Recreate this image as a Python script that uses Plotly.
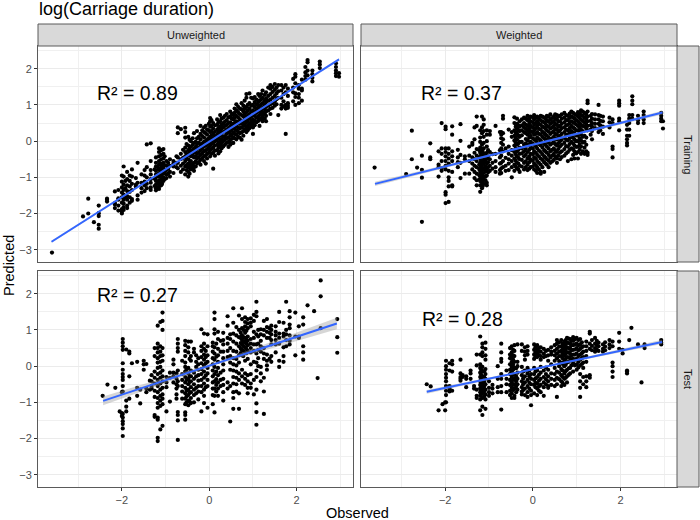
import plotly.graph_objects as go

train_unweighted = [
(-3.6,[-3.08]),(-2.89,[-2.08]),(-2.77,[-2.0,-1.59]),(-2.64,[-2.24]),(-2.53,[-1.78,-1.99,-2.07,-2.31,-2.42]),
(-2.34,[-1.59,-1.67,-1.62]),(-2.16,[-1.39,-1.71,-1.75,-1.85]),(-2.08,[-1.35,-1.58,-1.62,-1.78,-1.92]),
(-2.0,[-0.95,-1.12,-1.28,-1.42,-1.55,-1.7,-1.88,-1.95,-2.0]),(-1.96,[-0.7,-0.98,-1.2,-1.35,-1.48,-1.62,-1.72,-1.82,-1.9]),
(-1.88,[-0.85,-1.05,-1.22,-1.38,-1.52,-1.62,-1.78,-1.85]),(-1.82,[-0.95,-1.1,-1.25,-1.4,-1.55,-1.7]),
(-1.77,[-0.78,-0.98,-1.18,-1.35,-1.6,-1.65]),(-1.68,[-1.2,-1.25,-1.02]),(-1.64,[-0.6,-1.15,-1.5,-1.62]),
(-1.55,[-0.92,-1.15,-1.3,-1.42]),(-1.48,[-0.8,-0.95,-1.12,-1.22,-1.38]),(-1.43,[-0.09,-0.72,-1.0,-1.18,-1.3]),
(-1.34,[-0.06,-0.55,-0.8,-0.92,-1.05,-1.15,-1.28,-1.35]),(-1.22,[-0.45,-0.6,-0.7,-0.82,-0.92,-1.0,-1.1,-1.2,-1.3,-1.36]),
(-1.15,[-0.2,-0.3,-0.42,-0.55,-0.65,-0.78,-0.88,-0.98,-1.08,-1.18,-1.25,-1.32]),(-1.1,[-0.25,-0.38,-0.5,-0.62,-0.72,-0.85,-0.95,-1.05,-1.15,-1.22]),
(-1.05,[-0.22,-0.35,-0.48,-0.6,-0.75,-0.9,-1.0,-1.1]),(-0.98,[-0.55,-0.68,-0.8,-0.92,-1.02]),(-0.9,[-0.5,-0.68,-0.85,-0.98]),
(-0.82,[-0.55,-0.7,-0.88,-0.62]),(-0.75,[-0.42,-0.6,-0.72]),(-0.72,[0.38,0.22,-0.45,-0.6,-0.75]),
(-0.65,[0.33,-0.35,-0.5,-0.68,-0.85]),(-0.55,[0.37,0.25,0.1,-0.18,-0.3,-0.42,-0.55,-0.7,-0.92]),
(-0.48,[0.12,-0.12,-0.25,-0.38,-0.5,-0.62,-0.72,-0.85,-0.98]),(-0.42,[0.0,-0.15,-0.28,-0.42,-0.55,-0.68,-0.78]),
(-0.35,[0.22,-0.05,-0.2,-0.32,-0.45,-0.6,-0.72,-0.82]),(-0.28,[0.28,0.08,-0.08,-0.22,-0.35,-0.48,-0.62]),
(-0.2,[0.42,0.2,0.05,-0.1,-0.25,-0.38,-0.52,-0.65]),(-0.12,[0.38,0.25,0.1,-0.02,-0.15,-0.28,-0.42,-0.55]),
(-0.05,[0.32,0.18,0.05,-0.08,-0.22,-0.35,-0.48]),(0.02,[0.64,0.55,0.4,0.25,0.12,0.0,-0.12,-0.25,-0.42]),
(0.09,[0.5,0.35,0.2,0.08,-0.05,-0.18,-0.32,-0.76]),(0.18,[0.6,0.45,0.32,0.18,0.05,-0.1,-0.25]),
(0.25,[0.72,0.55,0.4,0.28,0.15,0.02,-0.12,-0.28]),(0.32,[0.65,0.5,0.38,0.25,0.12,0.0,-0.15]),
(0.4,[0.75,0.58,0.45,0.32,0.2,0.08,-0.05]),(0.48,[0.82,0.68,0.52,0.4,0.28,0.15,0.03,-0.1]),
(0.55,[0.72,0.6,0.48,0.36,0.24,0.1,-0.05]),(0.62,[1.02,0.85,0.7,0.55,0.42,0.3,0.18,0.05]),
(0.7,[0.9,0.75,0.6,0.48,0.35,0.22,0.1]),(0.78,[0.98,0.82,0.68,0.55,0.42,0.28,0.15]),
(0.85,[1.3,1.2,0.95,0.8,0.65,0.52,0.38,0.25]),(0.92,[1.32,1.05,0.9,0.75,0.62,0.48,0.36]),
(1.0,[1.18,1.0,0.85,0.72,0.6,0.48,0.38,0.2]),(1.08,[1.15,1.02,0.9,0.78,0.65,0.52]),
(1.15,[1.25,1.12,0.98,0.85,0.72,0.6,0.42]),(1.22,[1.4,1.2,1.05,0.92,0.8,0.68,0.55]),
(1.3,[1.35,1.18,1.08,0.95,0.82,0.7,0.55]),(1.4,[1.55,1.45,1.3,1.15,1.02,0.9,0.75]),
(1.5,[1.58,1.42,1.25,1.1,0.98]),(1.58,[1.55,1.38,1.2,0.72]),(1.65,[1.55,1.4,1.2,1.0,0.9]),
(1.75,[1.55,1.35,1.0,0.9,0.95,0.2]),(1.8,[1.45,1.25,1.05,0.92,0.98]),(1.92,[1.72,1.48,1.35,1.1]),
(1.97,[1.85,1.78,1.6,1.32,1.22,1.0]),(2.05,[1.55,1.45,1.3,1.2,1.05]),(2.12,[1.7,1.45,1.4,1.12]),
(2.2,[2.05,1.9,1.8,1.7]),(2.25,[2.24,2.18,1.95,1.82]),(2.36,[1.95,1.85,1.75,1.65]),
(2.53,[2.2,2.12,2.02]),(2.9,[2.15,2.05,1.95,1.88,1.8]),(2.97,[1.88,1.78]),
# second pass through the dense band
(-1.92,[-1.3,-1.55,-1.1]),(-1.18,[-0.72,-0.95,-1.13,-1.28]),(-1.25,[-0.78,-1.04,-1.24]),(-1.08,[-0.68,-0.8,-1.02,-1.18]),
(-1.02,[-0.42,-0.66,-0.84,-1.05]),(-0.94,[-0.6,-0.76,-0.9]),(-0.6,[-0.24,-0.46,-0.62,-0.78]),(-0.52,[-0.08,-0.35,-0.48,-0.66,-0.8]),
(-0.45,[0.04,-0.2,-0.34,-0.6,-0.74,-0.9]),(-0.38,[0.08,-0.1,-0.26,-0.4,-0.64,-0.76]),(-0.31,[-0.02,-0.16,-0.3,-0.42,-0.56,-0.7]),
(-0.24,[0.12,-0.04,-0.18,-0.32,-0.44,-0.58]),(-0.16,[0.3,0.14,-0.06,-0.2,-0.34,-0.47]),(-0.08,[0.42,0.22,0.0,-0.12,-0.26,-0.4,-0.62]),
(-0.01,[0.48,0.3,0.08,-0.04,-0.18,-0.32]),(0.05,[0.58,0.42,0.28,0.16,0.04,-0.08,-0.22,-0.35]),(0.13,[0.44,0.26,0.14,0.0,-0.12,-0.26,-0.4]),
(0.21,[0.52,0.36,0.24,0.1,-0.04,-0.18,-0.34]),(0.28,[0.62,0.46,0.34,0.2,0.06,-0.06,-0.2]),(0.36,[0.7,0.54,0.42,0.28,0.14,0.04,-0.1]),
(0.44,[0.66,0.5,0.36,0.24,0.1,-0.02,-0.16]),(0.51,[0.76,0.62,0.44,0.32,0.18,0.06,-0.06]),(0.58,[0.9,0.78,0.64,0.5,0.34,0.2,0.08]),
(0.66,[0.95,0.8,0.66,0.52,0.38,0.26,0.12]),(0.74,[1.05,0.88,0.72,0.5,0.38,0.24,0.04]),(0.81,[1.12,0.9,0.74,0.6,0.46,0.32]),
(0.88,[1.0,0.85,0.7,0.56,0.42,0.3]),(0.96,[1.2,0.98,0.82,0.68,0.54,0.42]),(1.04,[1.22,1.08,0.94,0.82,0.7,0.56,0.44]),
(1.12,[1.3,1.08,0.94,0.82,0.68,0.56]),(1.19,[1.3,1.16,1.02,0.88,0.76,0.62]),(1.27,[1.28,1.12,1.0,0.88,0.76,0.62]),
(1.35,[1.48,1.25,1.12,0.98,0.85]),(1.45,[1.5,1.36,1.2,1.05,0.92]),(1.54,[1.48,1.32,1.16,1.02]),(1.7,[1.48,1.3,1.1,0.96]),
]
train_weighted = [
(-3.61,[-0.73]),(-2.89,[-0.91]),(-2.76,[0.29,-0.5]),(-2.64,[-0.73]),(-2.53,[-0.4,-0.79,-1.01,-2.23]),
(-2.34,[-0.06,-0.45,-0.5]),(-2.15,[-0.28,-0.65,-0.72,-0.98]),(-2.08,[0.5,-0.2,-0.35,-0.55,-0.82,-0.75]),
(-1.99,[0.4,0.33,-0.2,-0.3,-0.42,-0.55,-0.68,-0.78,-1.41,-1.48,-1.71]),(-1.92,[-0.2,-0.35,-0.48,-0.62,-0.82,-1.0,-1.1,-1.25,-1.68]),
(-1.84,[0.41,0.18,-0.28,-0.42,-0.55,-0.85,-1.22,-1.25]),(-1.71,[-0.24,-0.45,-0.58,-0.72]),(-1.65,[0.47,0.01,-0.38,-0.6,-1.02]),
(-1.55,[-0.42,-0.5,-0.9]),(-1.45,[-0.15,-0.4,-0.55,-0.9]),(-1.38,[-0.1,-0.05,-0.45,-0.62,-0.78]),
(-1.33,[0.38,0.05,-0.32,-0.5,-0.68,-0.85,-1.02]),(-1.28,[0.68,0.42,-0.22,-0.4,-0.55,-0.72,-0.9,-1.08,-1.22]),
(-1.2,[0.3,0.1,-0.02,-0.18,-0.32,-0.48,-0.6,-0.72,-0.85,-0.98,-1.1,-1.22,-1.4]),(-1.16,[0.68,0.38,0.22,-0.1,-0.25,-0.42,-0.55,-0.68,-0.8,-0.92,-1.05,-1.15,-1.3]),
(-1.12,[0.6,0.45,0.28,0.12,-0.05,-0.2,-0.35,-0.5,-0.62,-0.75,-0.88,-1.0,-1.18]),(-1.05,[0.3,0.18,0.0,-0.15,-0.32,-0.48,-0.62,-0.78,-0.95,-1.15,-1.22]),
(-0.98,[0.28,0.18,-0.3,-0.5,-0.68,-0.82]),(-0.85,[0.42,-0.35,-0.55,-0.72,-0.85]),(-0.75,[0.25,-0.25,-0.45,-0.62,-0.8,-0.9]),
(-0.72,[0.25,0.18,0.08,-0.05,-0.2,-0.4,-0.6,-0.75,-0.88]),(-0.68,[0.7,0.62,0.22,0.05,-0.1,-0.28,-0.55,-0.72]),
(-0.55,[0.32,-0.15,-0.35,-0.5,-0.62,-0.8]),(-0.48,[0.25,0.12,-0.25,-0.4,-0.55,-0.72,-1.0]),
(-0.42,[0.66,0.5,0.3,0.15,0.02,-0.12,-0.3,-0.48,-0.65,-0.82]),(-0.36,[0.62,0.48,0.35,0.2,0.05,-0.1,-0.28,-0.42,-0.6,-0.75]),
(-0.3,[0.55,0.4,0.28,0.12,-0.02,-0.18,-0.35,-0.5,-0.68,-0.85]),(-0.2,[0.65,0.5,0.38,0.25,-0.1,-0.28,-0.42,-0.6,-0.78]),
(-0.12,[0.7,0.58,0.42,0.3,0.18,0.02,-0.12,-0.3,-0.48,-0.65,-0.8]),(-0.05,[0.68,0.55,0.42,0.28,0.15,-0.02,-0.18,-0.35,-0.5,-0.72]),
(0.03,[0.72,0.6,0.45,0.3,0.18,0.05,-0.1,-0.28,-0.45,-0.62,-0.78]),(0.1,[0.68,0.55,0.42,0.25,0.1,-0.05,-0.2,-0.38,-0.55,-0.72,-0.88]),
(0.18,[0.7,0.58,0.45,0.32,0.18,0.02,-0.12,-0.3,-0.48,-0.65,-0.85,-0.9]),(0.26,[0.65,0.52,0.38,0.22,0.08,-0.08,-0.25,-0.42,-0.58,-0.85]),
(0.32,[0.7,0.58,0.42,0.3,0.15,0.0,-0.15,-0.32,-0.5,-0.65]),(0.4,[0.74,0.6,0.48,0.35,0.2,0.05,-0.1,-0.28,-0.45,-0.6]),
(0.48,[0.68,0.55,0.42,0.28,0.12,-0.02,-0.2,-0.35,-0.52]),(0.55,[0.72,0.6,0.45,0.32,0.18,0.05,-0.12,-0.3,-0.48,-0.6]),
(0.62,[0.7,0.55,0.42,0.3,0.15,0.0,-0.15,-0.32,-0.5]),(0.72,[0.78,0.65,0.52,0.38,0.25,0.1,-0.05,-0.22,-0.4]),
(0.8,[0.7,0.58,0.45,0.3,0.18,0.02,-0.15,-0.3,-0.55]),(0.88,[0.82,0.68,0.55,0.42,0.28,0.12,-0.02,-0.2,-0.5]),
(0.95,[0.75,0.62,0.5,0.35,0.2,0.05,-0.12,-0.28,-0.48]),(1.03,[0.8,0.68,0.55,0.42,0.3,0.15,0.0,-0.15,-0.3,-0.48]),
(1.1,[0.85,0.72,0.6,0.45,0.32,0.18,0.02,-0.15,-0.35]),(1.18,[0.78,0.65,0.52,0.4,0.15,-0.02,-0.18,-0.35]),
(1.25,[1.12,1.05,0.82,0.68,0.55,0.42,0.3,-0.32,-0.38]),(1.35,[0.75,0.62,0.5,0.4,0.28,0.05]),
(1.5,[1.0,0.72,0.6,0.48,0.35,0.25]),(1.6,[0.68,0.55,0.4,0.2]),(1.75,[0.65,0.52,0.38]),
(1.82,[0.6,0.5,-0.15,-0.22,-0.45]),(1.97,[1.12,1.05,0.98,0.62,0.55,0.3]),
(2.15,[0.45,0.32,0.15,0.05,-0.05,-0.12]),(2.2,[0.72,0.62,0.5,0.32,0.15]),(2.27,[1.24,1.12,1.02,0.72,0.62]),
(2.4,[0.7,0.58,0.5]),(2.53,[0.82,0.72,0.6,0.5]),(2.93,[0.78,0.7,0.62,0.55]),(2.97,[0.55,0.35]),
# second pass through the dense cloud
(-1.22,[-0.25,-0.44,-0.64,-0.78,-0.94,-1.06]),(-1.18,[-0.38,-0.54,-0.7,-0.86,-1.02,-1.12]),(-1.14,[-0.3,-0.46,-0.6,-0.78,-0.96,-1.1,-1.24]),
(-1.08,[-0.4,-0.56,-0.7,-0.84,-0.98,-1.08]),(-1.02,[-0.25,-0.42,-0.58,-0.72,-0.86]),(-0.92,[-0.36,-0.6,-0.76]),
(-0.62,[-0.2,-0.46,-0.68,-0.82]),(-0.39,[0.4,0.24,0.1,-0.04,-0.2,-0.36,-0.54,-0.7]),(-0.33,[0.44,0.3,0.16,-0.06,-0.24,-0.46,-0.62,-0.78]),
(-0.25,[0.6,0.44,0.3,0.16,-0.02,-0.2,-0.34,-0.52,-0.7]),(-0.16,[0.62,0.46,0.34,0.22,0.06,-0.06,-0.22,-0.38,-0.56,-0.72]),
(-0.08,[0.62,0.5,0.36,0.24,0.1,-0.08,-0.24,-0.42,-0.58,-0.76]),(0.0,[0.66,0.52,0.38,0.24,0.08,-0.06,-0.2,-0.36,-0.54,-0.7]),
(0.07,[0.64,0.5,0.36,0.2,0.02,-0.14,-0.32,-0.48,-0.66,-0.82]),(0.14,[0.62,0.48,0.34,0.2,0.06,-0.08,-0.26,-0.42,-0.6,-0.78]),
(0.22,[0.68,0.54,0.4,0.26,0.12,-0.04,-0.18,-0.36,-0.52,-0.72]),(0.29,[0.62,0.48,0.34,0.18,0.04,-0.1,-0.28,-0.46,-0.62]),
(0.36,[0.68,0.54,0.4,0.26,0.1,-0.04,-0.2,-0.38,-0.54,-0.72]),(0.44,[0.64,0.52,0.38,0.24,0.08,-0.06,-0.24,-0.4,-0.56]),
(0.51,[0.74,0.62,0.48,0.34,0.2,0.06,-0.08,-0.26,-0.42]),(0.58,[0.68,0.54,0.4,0.26,0.1,-0.06,-0.22,-0.4]),
(0.66,[0.74,0.62,0.48,0.36,0.2,0.04,-0.1,-0.28,-0.44]),(0.76,[0.72,0.58,0.44,0.32,0.18,0.04,-0.14,-0.34]),
(0.84,[0.76,0.64,0.5,0.36,0.22,0.08,-0.08,-0.24]),(0.92,[0.78,0.66,0.52,0.38,0.24,0.1,-0.06,-0.22,-0.38]),
(0.99,[0.72,0.58,0.46,0.3,0.16,0.0,-0.16,-0.34]),(1.07,[0.76,0.64,0.5,0.38,0.24,0.08,-0.08,-0.24]),
(1.14,[0.82,0.7,0.56,0.42,0.28,0.12,-0.04,-0.28]),(1.22,[0.74,0.6,0.46,0.34,0.1,-0.1,-0.28]),
(1.32,[0.7,0.56,0.44,0.32,0.18]),(1.42,[0.74,0.6,0.48,0.36]),(1.54,[0.7,0.56,0.44,0.3]),
]
test_unweighted = [
(-2.44,[-0.82]),(-2.33,[-0.51]),(-2.15,[-0.6]),(-2.05,[-1.25]),(-2.0,[-0.72,-1.3,-1.38]),
(-1.98,[0.75,0.65,0.55,0.45,0.08,-0.1,-0.22,-0.3,-0.38,-0.55,-0.7,-1.32,-1.42,-1.52,-1.6,-1.72,-1.93]),
(-1.9,[0.46,-0.95,-1.12,-1.25]),(-1.83,[0.4,0.35,-0.28,-0.9]),(-1.77,[0.08]),(-1.65,[0.12,-0.6,-0.82]),
(-1.58,[-1.03,-0.65]),(-1.5,[0.15,0.05,-0.1]),(-1.44,[0.06,-0.62,-0.72]),(-1.36,[-0.4,-0.65]),(-1.32,[-0.25,-0.42,-0.55,-0.62]),
(-1.25,[0.5,0.28,-0.15,-0.32,-0.48,-0.68,-0.85,-1.35,-1.4]),(-1.18,[1.12,0.62,0.5,0.38,0.22,0.1,-0.05,-0.22,-0.38,-0.55,-0.72,-0.88,-1.02,-1.15,-1.42,-1.48,-2.07,-1.98]),
(-1.12,[1.22,0.55,0.4,0.28,0.12,-0.02,-0.18,-0.32,-0.48,-0.65,-0.82,-0.95,-1.1,-1.75]),(-1.07,[1.48,1.25,1.0,0.5,0.3,0.15,-0.12,-0.28,-0.42,-0.6,-0.78,-0.9,-1.05,-1.65]),
(-0.98,[-0.3,-0.45,-0.58,-1.25]),(-0.9,[-0.18,-0.32,-0.98]),(-0.82,[0.18,0.05,-0.18,-0.28,-0.45]),
(-0.75,[-0.2,-0.35,-0.5,-0.62,-0.78,-0.9]),(-0.72,[0.75,0.62,0.5,0.4,-0.12,-0.42,-0.55,-1.27,-1.35,-1.5,-2.04]),
(-0.62,[0.15,-0.22,-0.38,-0.55,-0.7,-0.9]),(-0.55,[0.7,0.58,0.42,0.28,0.1,-0.02,-0.15,-0.3,-0.45,-0.6,-0.75,-0.9,-1.05,-1.28,-1.35,-1.48]),
(-0.48,[0.68,0.52,0.38,-0.05,-0.2,-0.35,-0.5,-0.65,-0.8,-0.95,-1.08]),(-0.42,[0.68,0.28,0.15,-0.12,-0.28,-0.42,-0.58,-0.72,-0.88,-1.02]),
(-0.35,[0.48,0.38,-0.18,-0.35,-0.5,-0.65,-0.8,-1.0]),(-0.25,[0.22,0.05,-0.1,-0.25,-0.4,-0.55,-0.7,-0.92]),
(-0.18,[1.02,0.55,0.42,0.25,0.08,-0.08,-0.22,-0.38,-0.55,-0.72,-1.25]),(-0.12,[0.9,0.62,0.48,0.32,0.18,0.02,-0.15,-0.32,-0.48,-0.65,-0.82,-1.02]),
(-0.04,[0.88,0.55,0.3,0.12,-0.05,-0.2,-0.38,-0.55,-1.15]),(0.08,[0.65,0.55,0.4,0.22,0.05,-0.12,-0.28,-0.45,-0.62,-0.8,-1.05]),
(0.12,[1.48,1.3,1.02,0.9,0.52,0.35,0.18,-0.02,-0.22,-0.42,-0.62,-0.82,-1.28]),(0.2,[0.95,0.75,0.48,0.3,0.12,-0.05,-0.25,-0.45,-0.62,-0.82]),
(0.32,[0.92,0.72,0.6,0.4,0.22,0.05,-0.12,-0.35,-0.52,-0.72,-0.95]),(0.42,[1.38,1.12,0.78,0.62,0.42,0.25,-0.45,-0.62]),
(0.48,[0.88,0.75,0.5,0.28,0.1,-0.1,-0.55,-1.53]),(0.55,[1.6,1.2,0.9,0.68,0.42,0.22,0.05,-0.12,-0.3,-0.48,-0.72,-0.88,-1.18]),
(0.62,[1.08,0.85,0.62,0.4,0.2,0.02,-0.15,-0.32,-0.5,-0.7]),(0.68,[1.4,1.0,0.8,0.55,0.3,0.1,-0.2,-0.38,-0.75,-1.18]),
(0.75,[1.6,1.3,1.05,0.85,0.72,0.6,0.45,0.3,-0.1,-0.28,-0.48]),(0.82,[1.35,1.22,1.1,0.92,0.78,0.65,0.52,0.38,0.15,-0.2,-0.35,-0.52]),
(0.88,[1.3,1.18,1.05,0.82,0.7,0.58,0.42,0.2,-0.25,-0.42,-0.6,-0.75]),(0.95,[1.32,1.2,1.1,0.75,0.62,0.5,0.38,0.05,-0.22,-0.48,-0.6]),
(1.02,[1.42,1.25,0.95,0.78,0.6,0.42,0.12,-0.38,-0.78]),(1.08,[1.78,1.5,1.38,0.88,0.6,0.35,0.1,-0.12,-0.3,-0.65,-1.03,-1.27,-1.62]),
(1.18,[1.02,0.88,0.7,0.55,0.4,-0.02,-0.2,-0.42]),(1.25,[1.25,1.0,0.85,0.5,0.35,0.2,-0.32,-0.7,-1.32]),
(1.32,[1.3,1.08,0.95,0.78,0.32,0.15,0.02,-0.1]),(1.42,[1.12,1.0,0.88,0.72,0.6,0.28,0.12]),(1.52,[1.1,0.95,0.85,0.72,0.6,0.38]),
(1.6,[1.5,1.22,0.9,0.78,0.62,0.15,-0.02]),(1.7,[1.2,0.9,0.82,0.52,0.28,0.12]),(1.76,[1.78,1.0,0.88,0.72,0.55]),
(1.84,[1.52,1.35,1.15,1.05,0.85,0.7,0.6]),(1.97,[1.48,0.82,0.3]),(2.05,[1.1,0.82,0.78]),(2.15,[1.35,1.15,0.55,0.38,0.18]),
(2.25,[1.68]),(2.4,[1.52]),(2.48,[-0.33]),(2.55,[2.37,1.93,1.05]),(2.93,[1.3,0.8,0.37]),
# second pass through the central cloud
(-0.52,[-0.1,-0.38,-0.68,-0.84,-1.0]),(-0.45,[0.2,-0.28,-0.44,-0.74,-0.98]),(-0.3,[0.3,0.12,-0.02,-0.28,-0.6,-0.75]),
(-0.08,[0.42,0.25,0.08,-0.26,-0.58]),(0.16,[0.62,0.26,-0.15,-0.36,-0.52,-0.7]),(0.26,[0.7,0.4,-0.18,-0.38,-0.55]),
(0.72,[0.92,0.78,0.64,0.48,0.36]),(0.78,[1.0,0.8,0.68,0.55,0.42,0.28]),(0.85,[0.98,0.74,0.62,0.48,0.36]),
(1.12,[1.0,0.82,0.62,0.45,0.22,0.0]),(1.38,[1.05,0.92,0.78,0.2]),
]
test_weighted = [
(-2.42,[-0.5]),(-2.33,[-0.56]),(-2.15,[-1.22]),(-2.06,[-1.05]),(-2.0,[-1.0,-1.22]),
(-1.98,[0.15,0.0,-0.1,-0.22,-0.32,-0.42,-0.55,-0.68,-0.8,-1.0]),(-1.9,[0.08,-0.12,-0.55,-0.62,-0.7]),(-1.84,[0.15,0.05,-0.15,-0.68]),
(-1.65,[0.18,-0.2,-0.3,-0.35,-0.4]),(-1.6,[-0.25,-0.3]),(-1.52,[-0.28,-0.35,-0.58]),(-1.42,[-0.12,-0.35,-0.2]),(-1.34,[-0.55,-0.62]),
(-1.28,[0.32,0.02,-0.65,-0.88,-0.82]),(-1.2,[0.82,0.32,0.05,-0.05,-0.18,-0.3,-0.42,-0.52,-0.62,-0.72,-0.82,-0.92,-1.22]),
(-1.15,[0.62,0.52,0.38,0.28,-0.02,-0.15,-0.28,-0.4,-0.5,-0.62,-0.75,-0.88,-1.35,-1.12]),(-1.08,[0.65,0.48,0.3,0.18,-0.08,-0.22,-0.35,-0.5,-0.65,-0.78,-0.92,-1.18]),
(-1.0,[-0.42,-0.6,-0.72,-0.82]),(-0.92,[-0.52,-0.62,-0.75]),(-0.8,[-0.35,-0.58,-0.72,0.0]),(-0.72,[0.62,0.38,0.2,0.12,-0.22,-0.35,-0.55,-0.72,-1.2]),
(-0.6,[-0.12,-0.35,-0.5,-0.72]),(-0.52,[0.5,0.32,0.22,0.05,-0.1,-0.22,-0.38,-0.52,-0.68,-0.8]),(-0.48,[0.55,0.38,0.25,0.12,-0.02,-0.15,-0.3,-0.45,-0.6,-0.75,-0.88]),
(-0.42,[0.58,0.42,0.28,0.12,-0.05,-0.22,-0.35,-0.5,-0.62,-0.82,-0.88]),(-0.35,[0.6,0.12,0.0,-0.18,-0.35,-0.5,-0.65]),(-0.25,[0.6,0.42,-0.02,-0.25,-0.42,-0.58,-0.7,-0.78]),
(-0.18,[0.52,0.4,0.3,0.18,-0.12,-0.28,-0.45,-0.62,-0.8]),(-0.12,[0.55,0.42,0.32,-0.05,-0.2,-0.38,-0.55,-0.72,-0.85]),(-0.04,[-0.22,-0.35,-0.5,-0.68,-1.08,-0.8]),
(0.03,[0.6,0.45,0.32,0.2,-0.05,-0.22,-0.38,-0.52,-0.75]),(0.1,[0.58,0.45,0.35,0.25,-0.12,-0.3,-0.48,-0.62,-0.8]),(0.18,[0.52,0.4,0.28,0.18,-0.02,-0.18,-0.35,-0.52,-0.72]),
(0.25,[0.48,0.35,0.25,-0.12,-0.3,-0.45,-0.58,-0.82]),(0.35,[0.45,0.3,0.15,-0.1,-0.28,-0.42,-0.55,-0.6]),(0.42,[0.52,0.4,0.32,0.05,-0.2,-0.35,-0.52]),
(0.5,[0.58,0.42,0.3,0.15,-0.05,-0.22,-0.38,-0.55]),(0.55,[0.72,0.62,0.48,0.35,0.22,-0.15,-0.32,-0.5,-0.85]),(0.65,[0.72,0.55,0.42,0.28,0.1,-0.08,-0.25,-0.42,-0.55]),
(0.72,[0.68,0.55,0.42,0.3,0.15,0.0,-0.2,-0.35,-0.52]),(0.78,[0.78,0.65,0.52,0.38,0.25,0.1,-0.1,-0.28,-0.45]),(0.85,[0.75,0.62,0.5,0.35,0.22,-0.05,-0.2]),
(0.92,[0.8,0.7,0.58,0.45,0.32,0.2,0.08,-0.15]),(1.0,[0.78,0.62,0.5,0.35,0.2,0.05,-0.1]),(1.08,[0.75,0.6,0.48,0.32,0.18,0.02,-0.22,-0.42,-0.6,-0.85]),
(1.15,[0.55,0.4,0.25,0.1,-0.05,-0.3,-0.5]),(1.22,[0.68,0.55,0.42,0.28,0.12,-0.28,-0.42,-0.58]),(1.3,[0.95,0.9,0.62,0.48,-0.25,-0.32]),
(1.42,[0.78,0.62,0.5,0.4]),(1.5,[0.65,0.55,0.42]),(1.6,[0.6,0.48,0.4]),(1.75,[0.72,0.6,0.5]),(1.82,[0.68,0.55,0.1,0.0,-0.15,-0.3]),
(1.97,[0.92,0.68,0.48]),(2.05,[0.45,0.35]),(2.15,[-0.12,-0.15,-0.2]),(2.2,[0.72]),(2.25,[1.06]),(2.4,[0.6]),(2.48,[-0.45]),(2.55,[0.6,0.5]),
(2.93,[0.72,0.65,0.6]),
# second pass through the central cloud
(-1.18,[-0.1,-0.24,-0.36,-0.46,-0.58,-0.68,-0.78]),(-1.11,[-0.14,-0.3,-0.44,-0.56,-0.7,-0.84]),(-0.45,[0.45,0.3,0.18,0.04,-0.1,-0.24,-0.38,-0.52,-0.66]),
(-0.38,[-0.06,-0.28,-0.42,-0.56,-0.72]),(-0.22,[-0.15,-0.34,-0.5,-0.66]),(-0.08,[-0.12,-0.28,-0.46,-0.62]),(0.06,[0.52,0.38,0.26,-0.15,-0.34,-0.46,-0.58]),
(0.14,[0.5,0.4,0.3,-0.24,-0.4,-0.56,-0.68]),(0.3,[0.42,0.28,-0.04,-0.22,-0.36,-0.5]),(0.6,[0.66,0.54,0.4,0.28,0.14,0.0,-0.18,-0.36]),
(0.68,[0.62,0.48,0.36,0.22,0.06,-0.12,-0.3,-0.46]),(0.75,[0.72,0.6,0.46,0.34,0.2,0.04,-0.14,-0.32]),(0.82,[0.76,0.64,0.5,0.38,0.24,0.12,-0.06,-0.24]),
(0.88,[0.7,0.58,0.44,0.3,0.16,0.02]),(0.96,[0.74,0.6,0.46,0.32,0.18,0.02]),(1.04,[0.72,0.58,0.44,0.28,0.12,-0.04]),
(1.12,[0.66,0.52,0.36,0.22,0.06]),(1.35,[0.72,0.56,0.44]),(1.46,[0.7,0.58,0.46]),(1.65,[0.66,0.54,0.44]),
]

panels = [train_unweighted, train_weighted, test_unweighted, test_weighted]

# Fitted line endpoints; confidence band half-width at left end, centre and right end
fit_x = [[-3.61, 2.97], [-3.6, 2.96], [-2.43, 2.92], [-2.42, 2.95]]
fit_y = [[-2.78, 2.26], [-1.18, 0.79], [-0.96, 1.18], [-0.71, 0.67]]
band_half = [[0.03, 0.012, 0.03], [0.06, 0.02, 0.05], [0.12, 0.04, 0.16], [0.05, 0.02, 0.06]]

r2_labels = ["R² = 0.89", "R² = 0.37", "R² = 0.27", "R² = 0.28"]
r2_x = [-1.65, -1.62, -1.65, -1.6]
r2_y = [1.33, 1.33, 1.96, 1.30]
col_labels = ["Unweighted", "Weighted"]
row_labels = ["Training", "Test"]
x_ticks = [-2, 0, 2]
x_minor = [-3, -1, 1, 3]
y_ticks = [-3, -2, -1, 0, 1, 2]
y_minor = [-2.5, -1.5, -0.5, 0.5, 1.5, 2.5]

W, H = 700, 520
cols = [(38, 353), (361, 677)]
rows = [(46, 262), (271, 487)]
FONT = "Liberation Sans"
BORDER = "#5a5a5a"

fig = go.Figure()
for i, cols_data in enumerate(panels):
    n = "" if i == 0 else str(i + 1)
    xs = [c[0] for c in cols_data for _ in c[1]]
    ys = [v for c in cols_data for v in c[1]]
    fig.add_trace(go.Scatter(x=xs, y=ys, mode="markers", xaxis="x" + n, yaxis="y" + n,
                             marker=dict(color="black", size=4.2, line=dict(width=0)), showlegend=False))
    fx, fy, hw = fit_x[i], fit_y[i], band_half[i]
    mx, my = (fx[0] + fx[1]) / 2, (fy[0] + fy[1]) / 2
    fig.add_trace(go.Scatter(x=[fx[0], mx, fx[1], fx[1], mx, fx[0]],
                             y=[fy[0] + hw[0], my + hw[1], fy[1] + hw[2], fy[1] - hw[2], my - hw[1], fy[0] - hw[0]],
                             mode="lines", fill="toself", fillcolor="rgba(153,153,153,0.4)",
                             line=dict(width=0), xaxis="x" + n, yaxis="y" + n, showlegend=False))
    fig.add_trace(go.Scatter(x=fx, y=fy, mode="lines", line=dict(color="#3366FF", width=2),
                             xaxis="x" + n, yaxis="y" + n, showlegend=False))
    fig.add_annotation(x=r2_x[i], y=r2_y[i], xref="x" + n, yref="y" + n, text=r2_labels[i], showarrow=False,
                       xanchor="center", yanchor="middle", font=dict(family=FONT, size=19.5, color="black"))

layout = {}
for i in range(4):
    n = "" if i == 0 else str(i + 1)
    r, c = i // 2, i % 2
    common = dict(showgrid=True, gridcolor="#EBEBEB", gridwidth=1.1, zeroline=False, showline=True, mirror=True,
                  linecolor=BORDER, linewidth=1, ticks="outside", tickcolor="#333333", tickwidth=1,
                  tickfont=dict(family=FONT, size=11, color="#4D4D4D"))
    layout["xaxis" + n] = dict(common, domain=[cols[c][0] / W, cols[c][1] / W], range=[-3.92, 3.29], anchor="y" + n,
                               tickmode="array", tickvals=x_ticks, ticktext=["−2", "0", "2"],
                               minor=dict(tickmode="array", tickvals=x_minor, showgrid=True, gridcolor="#F0F0F0", gridwidth=0.7, ticks=""),
                               showticklabels=r == 1, ticklen=3 if r == 1 else 0)
    layout["yaxis" + n] = dict(common, domain=[1 - rows[r][1] / H, 1 - rows[r][0] / H], range=[-3.34, 2.63], anchor="x" + n,
                               tickmode="array", tickvals=y_ticks, ticktext=["−3", "−2", "−1", "0", "1", "2"],
                               minor=dict(tickmode="array", tickvals=y_minor, showgrid=True, gridcolor="#F0F0F0", gridwidth=0.7, ticks=""),
                               showticklabels=c == 0, ticklen=3 if c == 0 else 0)

shapes = []
anns = []
strip = dict(type="rect", xref="paper", yref="paper", fillcolor="#D9D9D9", line=dict(color=BORDER, width=1))
for j, (a, b) in enumerate(cols):
    shapes.append(dict(strip, x0=a / W, x1=b / W, y0=1 - 46 / H, y1=1 - 24 / H))
    anns.append(dict(x=(a + b) / 2 / W, y=1 - 35 / H, text=col_labels[j], xanchor="center",
                     font=dict(family=FONT, size=11, color="#1A1A1A")))
for j, (a, b) in enumerate(rows):
    shapes.append(dict(strip, x0=677 / W, x1=699 / W, y0=1 - b / H, y1=1 - a / H))
    anns.append(dict(x=688 / W, y=1 - (a + b) / 2 / H, text=row_labels[j], textangle=90, xanchor="center",
                     font=dict(family=FONT, size=11, color="#1A1A1A")))
anns.append(dict(x=37 / W, y=1 - 9 / H, xanchor="left", text="log(Carriage duration)", font=dict(family=FONT, size=18, color="black")))
anns.append(dict(x=357 / W, y=1 - 513 / H, xanchor="center", text="Observed", font=dict(family=FONT, size=14.5, color="black")))
anns.append(dict(x=9 / W, y=1 - 266 / H, xanchor="center", text="Predicted", textangle=-90, font=dict(family=FONT, size=14.5, color="black")))

fig.update_layout(width=W, height=H, margin=dict(l=0, r=0, t=0, b=0), paper_bgcolor="white", plot_bgcolor="white",
                  showlegend=False, shapes=shapes, **layout)
for a in anns:
    fig.add_annotation(xref="paper", yref="paper", yanchor="middle", showarrow=False, **a)

fig.write_html("out.html", config={"displayModeBar": False},
               post_script="document.body.style.margin='0';document.body.style.overflow='hidden';")
